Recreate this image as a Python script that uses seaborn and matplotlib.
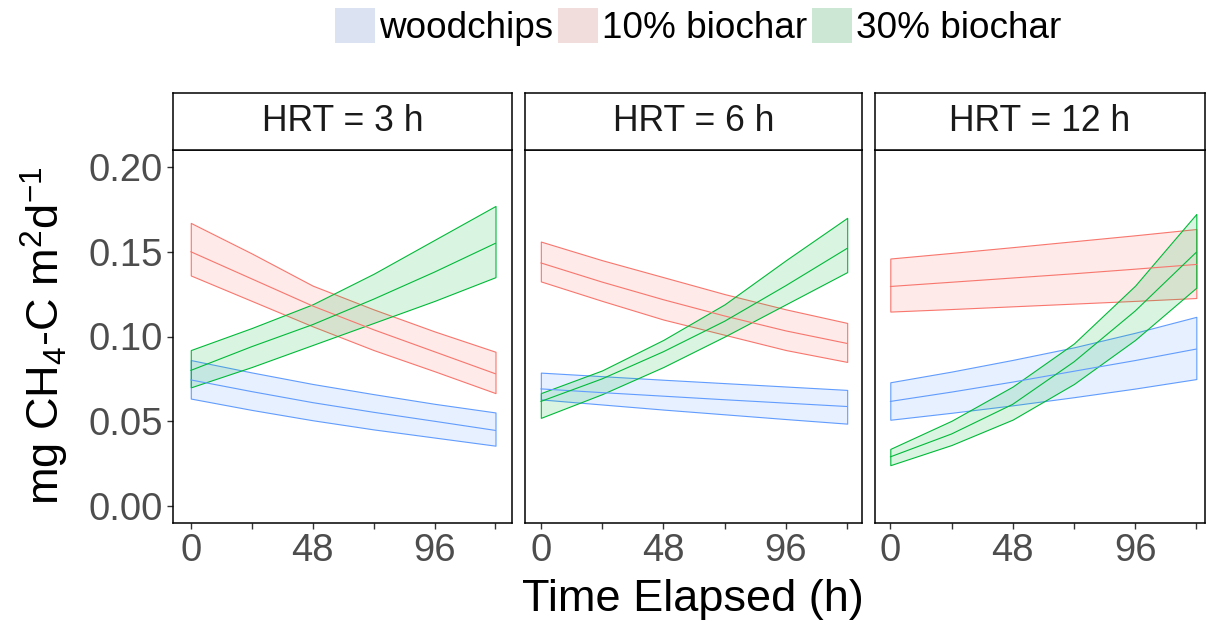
import matplotlib
matplotlib.use("Agg")
import numpy as np
import pandas as pd
import matplotlib.pyplot as plt
import seaborn as sns
from matplotlib.patches import Patch
from matplotlib.colors import to_rgb, to_rgba

# ---------------- data ----------------
time_h = [0, 24, 48, 72, 96, 120]
treatments = ["woodchips", "10% biochar", "30% biochar"]
hrt_labels = ["HRT = 3 h", "HRT = 6 h", "HRT = 12 h"]
x_ticks = [0, 24, 48, 72, 96, 120]
x_tick_labels = ["0", "", "48", "", "96", ""]
y_ticks = [0.00, 0.05, 0.10, 0.15, 0.20]
y_tick_labels = ["0.00", "0.05", "0.10", "0.15", "0.20"]

# HRT = 3 h
wood_3_mean = [0.0744, 0.0675, 0.0610, 0.0553, 0.0500, 0.0446]
wood_3_low = [0.0634, 0.0567, 0.0506, 0.0452, 0.0404, 0.0356]
wood_3_high = [0.0861, 0.0788, 0.0720, 0.0660, 0.0603, 0.0552]
b10_3_mean = [0.150, 0.134, 0.118, 0.104, 0.091, 0.078]
b10_3_low = [0.136, 0.121, 0.106, 0.092, 0.0795, 0.0666]
b10_3_high = [0.167, 0.149, 0.130, 0.116, 0.103, 0.091]
b30_3_mean = [0.080, 0.094, 0.107, 0.122, 0.138, 0.155]
b30_3_low = [0.070, 0.082, 0.095, 0.108, 0.121, 0.135]
b30_3_high = [0.092, 0.105, 0.119, 0.137, 0.157, 0.177]

# HRT = 6 h
wood_6_mean = [0.0691, 0.0669, 0.0648, 0.0627, 0.0607, 0.0587]
wood_6_low = [0.0629, 0.0599, 0.0569, 0.0541, 0.0513, 0.0486]
wood_6_high = [0.0787, 0.0766, 0.0745, 0.0725, 0.0705, 0.0685]
b10_6_mean = [0.1434, 0.1321, 0.1217, 0.1121, 0.1033, 0.0959]
b10_6_low = [0.1325, 0.121, 0.110, 0.101, 0.092, 0.085]
b10_6_high = [0.156, 0.145, 0.135, 0.125, 0.116, 0.108]
b30_6_mean = [0.0617, 0.075, 0.091, 0.109, 0.130, 0.152]
b30_6_low = [0.052, 0.066, 0.082, 0.100, 0.119, 0.138]
b30_6_high = [0.0666, 0.080, 0.098, 0.119, 0.145, 0.170]

# HRT = 12 h
wood_12_mean = [0.0617, 0.0672, 0.0731, 0.0795, 0.0858, 0.0926]
wood_12_low = [0.0509, 0.0550, 0.0594, 0.0642, 0.0693, 0.0749]
wood_12_high = [0.0730, 0.0793, 0.0862, 0.0936, 0.1022, 0.1116]
b10_12_mean = [0.1295, 0.1320, 0.1345, 0.1370, 0.1397, 0.1425]
b10_12_low = [0.1147, 0.1162, 0.1178, 0.1194, 0.1210, 0.1227]
b10_12_high = [0.1460, 0.1493, 0.1527, 0.1562, 0.1597, 0.1634]
b30_12_mean = [0.029, 0.0425, 0.060, 0.085, 0.115, 0.1497]
b30_12_low = [0.0241, 0.036, 0.051, 0.072, 0.098, 0.1288]
b30_12_high = [0.0337, 0.0503, 0.0705, 0.0959, 0.130, 0.1723]

series = [
    ("HRT = 3 h", "woodchips", wood_3_mean, wood_3_low, wood_3_high),
    ("HRT = 3 h", "10% biochar", b10_3_mean, b10_3_low, b10_3_high),
    ("HRT = 3 h", "30% biochar", b30_3_mean, b30_3_low, b30_3_high),
    ("HRT = 6 h", "woodchips", wood_6_mean, wood_6_low, wood_6_high),
    ("HRT = 6 h", "10% biochar", b10_6_mean, b10_6_low, b10_6_high),
    ("HRT = 6 h", "30% biochar", b30_6_mean, b30_6_low, b30_6_high),
    ("HRT = 12 h", "woodchips", wood_12_mean, wood_12_low, wood_12_high),
    ("HRT = 12 h", "10% biochar", b10_12_mean, b10_12_low, b10_12_high),
    ("HRT = 12 h", "30% biochar", b30_12_mean, b30_12_low, b30_12_high),
]
rows = []
for hrt, trt, m, lo, hi in series:
    for t, a, b, c in zip(time_h, m, lo, hi):
        rows.append({"hrt": hrt, "treatment": trt, "time": t,
                     "mean": a, "low": b, "high": c})
df = pd.DataFrame(rows)

# ---------------- style ----------------
sns.set_theme(style="white")
plt.rcParams["font.family"] = ["Liberation Sans", "DejaVu Sans"]
plt.rcParams["mathtext.fontset"] = "custom"
plt.rcParams["mathtext.rm"] = "Liberation Sans"
plt.rcParams["mathtext.it"] = "Liberation Sans:italic"
plt.rcParams["mathtext.bf"] = "Liberation Sans:bold"
plt.rcParams["text.color"] = "black"
plt.rcParams["legend.labelcolor"] = "black"

palette = {"woodchips": "#619CFF", "10% biochar": "#F8766D", "30% biochar": "#00BA38"}
FILL_ALPHA = 0.15
tick_size = 27.5
strip_size = 25.6
legend_size = 26.6
big = 32.5

W, H = 1206, 626
fig = plt.figure(figsize=(W / 100, H / 100), dpi=100)

def fx(px):
    return px / W

def fy(py):
    return (H - py) / H

panel_top, panel_bot = 150, 523
strip_top = 92.7
panels_x = [(173, 512), (525, 862), (875, 1205)]
xlims = [(-7.0, 126.5), (-6.2, 125.8), (-6.0, 123.4)]

for i, (hrt, (x0, x1)) in enumerate(zip(hrt_labels, panels_x)):
    ax = fig.add_axes([fx(x0), fy(panel_bot), fx(x1) - fx(x0), fy(panel_top) - fy(panel_bot)])
    sub = df[df["hrt"] == hrt]
    for trt in treatments:
        d = sub[sub["treatment"] == trt]
        ax.fill_between(d["time"], d["low"], d["high"],
                        facecolor=to_rgba(palette[trt], FILL_ALPHA),
                        edgecolor=palette[trt], linewidth=0.8, zorder=2)
    sns.lineplot(data=sub, x="time", y="mean", hue="treatment", hue_order=treatments,
                 palette=palette, linewidth=0.8, legend=False, ax=ax, zorder=3)
    ax.set_xlim(*xlims[i])
    ax.set_ylim(-0.01, 0.21)
    ax.set_xticks(x_ticks)
    ax.set_xticklabels(x_tick_labels)
    ax.set_yticks(y_ticks)
    ax.set_xlabel("")
    ax.set_ylabel("")
    ax.tick_params(axis="both", direction="out", length=4.2, width=1.0,
                   color="#333333", labelsize=tick_size, labelcolor="#4D4D4D")
    ax.tick_params(axis="x", bottom=True, pad=3.0)
    if i == 0:
        ax.set_yticklabels(y_tick_labels)
        ax.tick_params(axis="y", left=True, pad=3.0)
    else:
        ax.set_yticklabels([])
        ax.tick_params(axis="y", left=False, length=0)
    for s in ax.spines.values():
        s.set_color("black")
        s.set_linewidth(1.1)
        s.set_visible(True)
    ax.grid(False)

    sax = fig.add_axes([fx(x0), fy(panel_top), fx(x1) - fx(x0), fy(strip_top) - fy(panel_top)])
    sax.set_xticks([])
    sax.set_yticks([])
    sax.set_facecolor("white")
    for s in sax.spines.values():
        s.set_color("black")
        s.set_linewidth(1.1)
        s.set_visible(True)
    sax.text(0.5, 0.5, hrt, ha="center", va="center", fontsize=strip_size,
             color="#1A1A1A", transform=sax.transAxes)

# axis titles
fig.text(fx(692.5), fy(600), "Time Elapsed (h)", ha="center", va="center",
         fontsize=big, color="black")
fig.text(fx(45), fy(336), r"mg CH$_4$-C m$^2$d$^{-1}$", ha="center", va="center",
         rotation=90, fontsize=big, color="black")

# legend (keys drawn like ggplot over light grey key background)
def key_color(c):
    r, g, b = to_rgb(c)
    bg = 240 / 255
    return (FILL_ALPHA * r + (1 - FILL_ALPHA) * bg,
            FILL_ALPHA * g + (1 - FILL_ALPHA) * bg,
            FILL_ALPHA * b + (1 - FILL_ALPHA) * bg)

handles = [Patch(facecolor=key_color(palette[t]), edgecolor="none", label=t) for t in treatments]
fig.legend(handles=handles, loc="center", bbox_to_anchor=(fx(698), fy(27)), ncol=3,
           frameon=False, fontsize=legend_size, handlelength=1.1, handleheight=1.1,
           handletextpad=0.1, columnspacing=0.12, borderpad=0, borderaxespad=0,
           labelcolor="black")

fig.savefig("out.png", dpi=100)
